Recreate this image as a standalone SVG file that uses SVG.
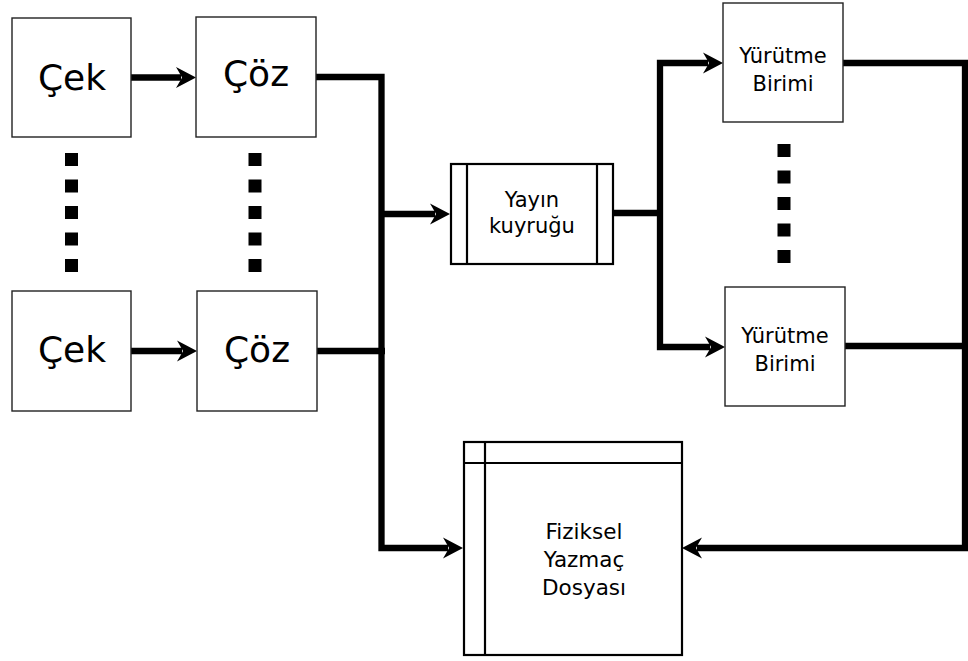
<svg xmlns="http://www.w3.org/2000/svg" width="968" height="661" viewBox="0 0 968 661">
<style>
.box{fill:#fff;stroke:#222;stroke-width:1.4}
.box2{fill:#fff;stroke:#000;stroke-width:2.2}
.big{font-family:"DejaVu Sans",sans-serif;font-size:36px;text-anchor:middle;fill:#000}
.lbl{font-family:"DejaVu Sans",sans-serif;font-size:21px;text-anchor:middle;fill:#000}
.wire{fill:none;stroke:#000;stroke-width:6.3;stroke-linejoin:miter}
.arr{marker-end:url(#ah)}
.dot{fill:#000}
</style>
<defs>
<marker id="ah" markerUnits="userSpaceOnUse" markerWidth="24" markerHeight="24" viewBox="0 -12 24 24" refX="5" refY="0" orient="auto-start-reverse">
<path d="M0,-10.5 L20,0 L0,10.5 Q5,2 6,0 Q5,-2 0,-10.5Z" fill="#000"/>
</marker>
</defs>
<g id="connectors">
<path class="wire arr" d="M131,77.5 H181"/>
<path class="wire arr" d="M131,351 H182"/>
<path class="wire arr" d="M316,77 H381.5 V548 H448"/>
<path class="wire arr" d="M381.5,214 H435"/>
<path class="wire" d="M317,351 H385"/>
<path class="wire" d="M613,213 H663"/>
<path class="wire" d="M708,63 H660 V347 H710" style="marker-start:url(#ah);marker-end:url(#ah)"/>
<path class="wire arr" d="M843,63 H965 V548 H697"/>
<path class="wire" d="M845,346 H965"/>
</g>
<g id="cek1"><rect class="box" x="12" y="18" width="119" height="119"/><text class="big" x="72" y="89.5">Çek</text></g>
<g id="coz1"><rect class="box" x="196" y="17" width="120" height="120"/><text class="big" x="256" y="85.5">Çöz</text></g>
<g id="cek2"><rect class="box" x="12" y="291" width="119" height="120"/><text class="big" x="72" y="362">Çek</text></g>
<g id="coz2"><rect class="box" x="197" y="291" width="120" height="120"/><text class="big" x="257" y="362">Çöz</text></g>
<g id="dots1">
<rect class="dot" x="65" y="153" width="13" height="13"/>
<rect class="dot" x="65" y="179.5" width="13" height="13"/>
<rect class="dot" x="65" y="206" width="13" height="13"/>
<rect class="dot" x="65" y="232.5" width="13" height="13"/>
<rect class="dot" x="65" y="259" width="13" height="13"/>
</g>
<g id="dots2">
<rect class="dot" x="248.5" y="153" width="13" height="13"/>
<rect class="dot" x="248.5" y="179.5" width="13" height="13"/>
<rect class="dot" x="248.5" y="206" width="13" height="13"/>
<rect class="dot" x="248.5" y="232.5" width="13" height="13"/>
<rect class="dot" x="248.5" y="259" width="13" height="13"/>
</g>
<g id="dots3">
<rect class="dot" x="777.5" y="144" width="13" height="13"/>
<rect class="dot" x="777.5" y="170.5" width="13" height="13"/>
<rect class="dot" x="777.5" y="197" width="13" height="13"/>
<rect class="dot" x="777.5" y="223.5" width="13" height="13"/>
<rect class="dot" x="777.5" y="250" width="13" height="13"/>
</g>
<g id="yayin">
<rect class="box2" x="451" y="164" width="162" height="100"/>
<line x1="467" y1="164" x2="467" y2="264" stroke="#000" stroke-width="2.2"/>
<line x1="597" y1="164" x2="597" y2="264" stroke="#000" stroke-width="2.2"/>
<text class="lbl" x="532" y="207">Yayın</text>
<text class="lbl" x="532" y="233">kuyruğu</text>
</g>
<g id="yurutme1"><rect class="box" x="723" y="3" width="120" height="119"/><text class="lbl" x="783" y="63">Yürütme</text><text class="lbl" x="783" y="91">Birimi</text></g>
<g id="yurutme2"><rect class="box" x="725" y="287" width="120" height="119"/><text class="lbl" x="785" y="343">Yürütme</text><text class="lbl" x="785" y="371">Birimi</text></g>
<g id="fiziksel">
<rect class="box2" x="464" y="442" width="218" height="213"/>
<line x1="485" y1="442" x2="485" y2="655" stroke="#000" stroke-width="2.2"/>
<line x1="464" y1="463" x2="682" y2="463" stroke="#000" stroke-width="2.2"/>
<text class="lbl" x="584" y="539" style="font-size:21.5px">Fiziksel</text>
<text class="lbl" x="584" y="567" style="font-size:21.5px">Yazmaç</text>
<text class="lbl" x="584" y="595" style="font-size:21.5px">Dosyası</text>
</g>
</svg>
